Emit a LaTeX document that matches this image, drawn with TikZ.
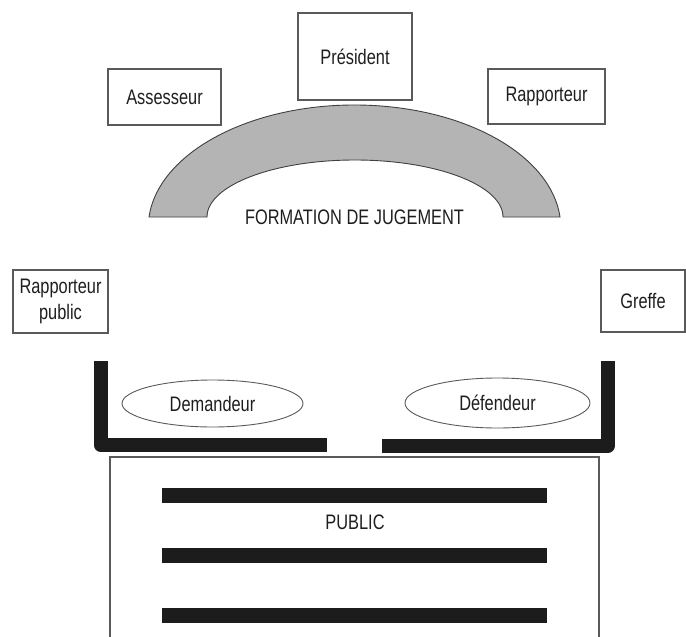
\documentclass[tikz,border=0pt]{standalone}
\usepackage{fontspec}
\setmainfont{Liberation Sans}[FakeStretch=0.78]
\usetikzlibrary{shapes.geometric}
\definecolor{txt}{HTML}{1E1E1E}
\definecolor{boxline}{HTML}{5A5A5A}
\definecolor{archfill}{HTML}{B4B4B4}
\definecolor{archline}{HTML}{404040}
\definecolor{barcol}{HTML}{1C1C1C}
\begin{document}
\begin{tikzpicture}[x=1pt,y=-1pt,
  box/.style={draw=boxline, line width=1.2pt, inner sep=0pt, text=txt,
    font=\fontsize{21}{26}\selectfont},
  party/.style={ellipse, draw=boxline, line width=0.9pt, inner sep=0pt, text=txt,
    font=\fontsize{21}{26}\selectfont},
  lbl/.style={inner sep=0pt, text=txt, font=\fontsize{21}{26}\selectfont},
  wall/.style={draw=barcol, line width=14pt, line join=round, line cap=butt},
  bench/.style={draw=barcol, line width=15pt, line cap=butt},
  hall/.style={draw=boxline, line width=1.2pt}]
\useasboundingbox (0,0) rectangle (686,637);

% arch (formation de jugement)
\filldraw[fill=archfill, draw=archline, line width=0.9pt]
  (149,217) arc[start angle=185, end angle=355, x radius=206.3, y radius=122.7]
  -- (503,217) arc[start angle=360, end angle=180, x radius=148, y radius=57]
  -- cycle;

% judges
\node[box, minimum width=113pt, minimum height=56pt] (ass) at (164.5,97) {Assesseur};
\node[box, minimum width=114pt, minimum height=87pt] (pres) at (355,56.5) {Président};
\node[box, minimum width=117pt, minimum height=55pt] (rap) at (546.5,96.5) {Rapporteur};
\node[lbl] (form) at (354.5,217) {FORMATION DE JUGEMENT};

% side officers
\node[box, minimum width=95pt, minimum height=63pt, align=center] (rpub) at (60.5,301.5) {Rapporteur\\public};
\node[box, minimum width=84pt, minimum height=62pt] (gref) at (643,301) {Greffe};

% parties
\node[party, minimum width=181pt, minimum height=47pt] (dem) at (212.5,403.5) {Demandeur};
\node[party, minimum width=185pt, minimum height=50pt] (def) at (497.5,403) {Défendeur};

% barriers
\draw[wall] (100.5,361) -- (100.5,445) -- (327,445);
\draw[wall] (382,445.5) -- (608,445.5) -- (608,361);

% public area
\draw[hall] (110,637) -- (110,457) -- (599,457) -- (599,637);
\draw[bench] (162,495.5) -- (547,495.5);
\draw[bench] (162,555.5) -- (547,555.5);
\draw[bench] (162,615.5) -- (547,615.5);
\node[lbl] (pub) at (355,522) {PUBLIC};
\end{tikzpicture}
\end{document}
